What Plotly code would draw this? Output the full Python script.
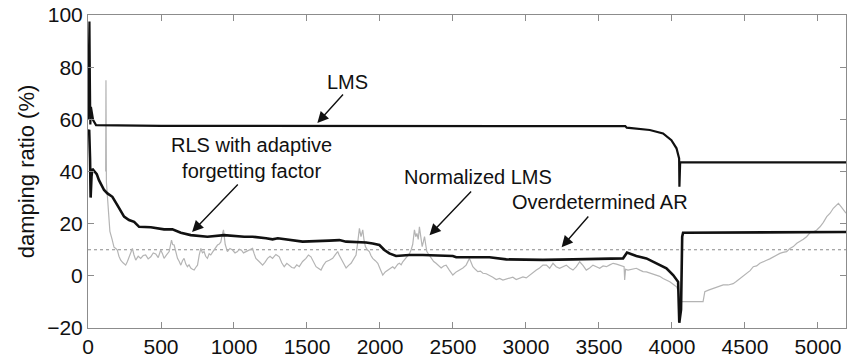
import plotly.graph_objects as go

# ---- data ----
lms_t = [0, 10, 13, 16, 20, 28, 35, 55, 500, 3680, 3690, 3848, 3939, 3996, 4031, 4049, 4051, 4056, 5192]
lms_v = [60, 97.5, 75, 58, 64.8, 61, 59.7, 57.8, 57.5, 57.4, 56.8, 55.9, 54.6, 52.0, 48.9, 45.0, 34.2, 43.5, 43.5]

rls_t = [0, 8, 14, 18, 24, 30, 45, 60, 75, 110, 133, 167, 201, 224, 247, 281, 316, 350, 430, 521, 578,
         636, 704, 818, 932, 1070, 1127, 1220, 1264, 1300, 1470, 1653, 1722, 1768, 1905, 1950, 1996,
         2030, 2064, 2110, 2200, 2293, 2499, 2522, 2750, 2865, 3116, 3322, 3551, 3665, 3692, 3756,
         3825, 3894, 3962, 4008, 4042, 4050, 4062, 4070, 4076, 5192]
rls_v = [55, 56, 45, 30, 38, 41, 40, 39, 36.7, 32.9, 31.6, 30.3, 27.1, 24.6, 22.7, 21.4, 20.7, 18.8, 18.6,
         17.8, 17.8, 16.5, 15.6, 15.0, 15.6, 15.0, 15.0, 14.4, 14.0, 14.4, 13.1, 13.5, 13.7, 13.1, 12.8,
         12.4, 11.8, 9.9, 8.6, 7.6, 8.0, 8.0, 7.6, 7.1, 7.1, 6.3, 6.1, 6.3, 6.7, 6.7, 8.9, 7.6, 6.7, 4.8,
         2.9, 0.3, -2.3, -18.0, -13.0, 15.0, 16.5, 16.8]

nlms_t = [121, 123, 126, 132, 140, 150, 165, 178, 190, 201, 212, 224, 240, 258, 270, 281, 292, 304, 315,
          327, 344, 361, 378, 395, 412, 430, 447, 464, 481, 498, 510, 521, 538, 556, 572, 580, 590, 600,
          613, 625, 636, 647, 658, 670, 681, 692, 704, 716, 727, 738, 750, 762, 773, 784, 795, 806, 818,
          830, 841, 852, 864, 875, 887, 899, 910, 918, 928, 940, 955, 972, 990, 1007, 1024, 1036, 1050,
          1065, 1082, 1105, 1127, 1138, 1150, 1172, 1196, 1212, 1230, 1247, 1264, 1287, 1310, 1327,
          1344, 1362, 1379, 1396, 1413, 1430, 1447, 1470, 1493, 1510, 1527, 1545, 1562, 1580, 1596,
          1612, 1630, 1653, 1676, 1693, 1710, 1720, 1733, 1750, 1768, 1785, 1802, 1820, 1836, 1848,
          1859, 1870, 1882, 1890, 1900, 1913, 1927, 1938, 1950, 1968, 1985, 2002, 2019, 2036, 2053,
          2070, 2087, 2100, 2110, 2122, 2133, 2145, 2156, 2173, 2190, 2202, 2213, 2224, 2236, 2245,
          2253, 2262, 2270, 2280, 2289, 2297, 2305, 2313, 2321, 2336, 2351, 2368, 2384, 2400, 2419,
          2436, 2453, 2475, 2499, 2522, 2545, 2568, 2590, 2602, 2613, 2625, 2636, 2653, 2670, 2688,
          2705, 2728, 2750, 2773, 2796, 2819, 2842, 2865, 2888, 2910, 2933, 2956, 2979, 3002, 3025,
          3048, 3071, 3093, 3116, 3140, 3162, 3185, 3207, 3230, 3253, 3276, 3299, 3322, 3345, 3368,
          3390, 3413, 3436, 3459, 3482, 3505, 3528, 3551, 3574, 3597, 3620, 3642, 3660, 3672, 3676,
          3682, 3699, 3727, 3756, 3780, 3802, 3825, 3848, 3871, 3894, 3916, 3939, 3962, 3985, 4008,
          4031, 4045, 4050, 4213, 4225, 4250, 4282, 4315, 4351, 4385, 4419, 4440, 4465, 4490, 4511,
          4535, 4557, 4580, 4602, 4625, 4648, 4670, 4694, 4715, 4739, 4760, 4785, 4808, 4831, 4855,
          4877, 4900, 4922, 4945, 4968, 4990, 5014, 5037, 5060, 5083, 5105, 5125, 5140, 5158, 5174, 5192]
nlms_v = [40, 75, 36, 30, 22, 17, 14, 11, 10.5, 9.9, 7.5, 6.0, 5.0, 4.1, 5.5, 7.3, 8.5, 10.5, 8.0,
          6.0, 7.5, 6.7, 7.8, 8.0, 6.5, 7.3, 8.8, 8.4, 7.0, 9.9, 8.5, 6.7, 8.0, 9.3, 13.7, 12.0, 11.8, 9.0,
          6.7, 5.5, 4.1, 5.8, 6.7, 4.5, 3.5, 4.2, 3.0, 2.5, 2.2, 3.2, 4.1, 8.0, 10.5, 8.8, 9.3, 7.5, 6.7,
          8.5, 8.0, 9.0, 9.9, 10.8, 11.8, 12.2, 13.0, 15.5, 17.6, 12.0, 9.3, 10.5, 9.9, 8.8, 9.3, 10.2, 9.9,
          8.8, 9.3, 10.0, 10.5, 8.5, 6.7, 5.5, 4.1, 5.2, 6.7, 7.5, 6.7, 8.2, 7.3, 5.0,
          3.5, 4.8, 4.1, 3.2, 3.0, 4.2, 3.5, 5.5, 6.7, 8.0, 7.3, 5.2, 3.5, 2.8, 2.2,
          4.0, 5.4, 6.0, 6.7, 8.0, 9.3, 8.0, 6.7, 4.5, 3.0, 4.0, 4.8, 6.5, 8.0, 13.0,
          18.2, 15.0, 17.6, 14.0, 11.2, 10.0, 9.3, 7.8, 6.7, 5.8, 4.8, 2.5, 0.3, 1.5, 2.2,
          3.0, 3.5, 2.8, 3.5, 4.5, 4.8, 4.2, 5.4, 6.5, 7.3, 8.5, 9.9, 12.0, 17.6, 15.0,
          16.3, 14.0, 18.8, 15.0, 11.2, 13.0, 15.0, 12.0, 9.3, 8.0, 6.7, 5.5, 4.8, 3.8, 3.0,
          3.8, 4.1, 2.2, 0.3, 1.5, 2.2, 3.0, 4.1, 5.5, 6.7, 5.0, 3.5, 2.5, 1.6, 1.8,
          1.0, 0.8, 0.3, -0.5, -1.4, -1.0, -1.6, -1.2, -1.0, -0.5, -1.4, -0.8, -0.4, -0.8, 0.3,
          1.2, 2.2, 3.0, 4.1, 4.1, 2.9, 4.8, 3.5, 2.9, 3.5, 4.1, 3.0, 2.2, 3.5, 5.4,
          4.0, 2.2, 3.0, 4.1, 3.5, 2.9, 3.8, 3.5, 4.2, 4.8, 4.5, 4.1, 3.8, 3.5, -1.6,
          2.5, 2.2, 2.5, 2.9, 2.2, 1.6, 1.5, 1.0, 0.8, 0.3, -0.2, -1.0, -1.5, -2.3, -3.2,
          -4.2, -6.0, -9.9, -9.9, -6.1, -5.5, -4.8, -4.2, -3.5, -3.5, -3.0, -2.2, -1.0, 0.0, 1.0,
          2.0, 3.5, 3.8, 4.8, 5.5, 6.0, 6.5, 7.3, 7.8, 8.6, 9.0, 9.3, 10.5, 11.2, 12.5,
          13.1, 14.0, 15.0, 16.5, 16.9, 17.5, 18.8, 20.5, 22.7, 24.0, 25.9, 27.0, 27.8, 26.5, 25.2, 24.0]

ar_t = [0, 5192]
ar_v = [10, 10]

x_ticks = [0, 500, 1000, 1500, 2000, 2500, 3000, 3500, 4000, 4500, 5000]
y_ticks = [-20, 0, 20, 40, 60, 80, 100]

# annotation labels: text, text position, arrow tail, arrow head (data coordinates)
labels = [
    ("LMS", 1776, 74.3, 1756, 70.1, 1571, 58.6),
    ("RLS with adaptive<br>forgetting factor", 1118, 45.0, 1036, 35.6, 713, 16.8),
    ("Normalized LMS", 2668, 37.9, 2634, 32.9, 2339, 15.6),
    ("Overdetermined AR", 3505, 28.3, 3436, 23.3, 3244, 11.0),
]

FONT = "Arial, Liberation Sans, sans-serif"

fig = go.Figure()
fig.add_trace(go.Scatter(x=ar_t, y=ar_v, mode="lines",
                         line=dict(color="#8a8a8a", width=1, dash="dot"), name="Overdetermined AR"))
fig.add_trace(go.Scatter(x=nlms_t, y=nlms_v, mode="lines",
                         line=dict(color="#b4b4b4", width=1.2), name="Normalized LMS"))
fig.add_trace(go.Scatter(x=lms_t, y=lms_v, mode="lines",
                         line=dict(color="#111111", width=2.2), name="LMS"))
fig.add_trace(go.Scatter(x=rls_t, y=rls_v, mode="lines",
                         line=dict(color="#111111", width=2.6), name="RLS"))

for text, tx, ty, axx, ayy, hx, hy in labels:
    fig.add_annotation(x=tx, y=ty, text=text, showarrow=False, xref="x", yref="y",
                       font=dict(family=FONT, size=20, color="#111111"), align="center")
    fig.add_annotation(x=hx, y=hy, ax=axx, ay=ayy, axref="x", ayref="y", xref="x", yref="y",
                       text="", showarrow=True, arrowhead=2, arrowsize=1.6, arrowwidth=1.4,
                       arrowcolor="#111111")

axis_common = dict(showgrid=False, zeroline=False, showline=True, linecolor="#8c8c8c", linewidth=1,
                   mirror="ticks", ticks="inside", ticklen=6, tickcolor="#8c8c8c",
                   tickfont=dict(family=FONT, size=21, color="#111111"))

fig.update_layout(
    width=847, height=364,
    margin=dict(l=88, r=1, t=15, b=36),
    paper_bgcolor="white", plot_bgcolor="white",
    showlegend=False,
    xaxis=dict(range=[0, 5192], tickvals=x_ticks, **axis_common),
    yaxis=dict(range=[-20, 100], tickvals=y_ticks,
               title=dict(text="damping ratio (%)", font=dict(family=FONT, size=22, color="#111111"),
                          standoff=6),
               **axis_common),
)

fig.write_html("out.html")
